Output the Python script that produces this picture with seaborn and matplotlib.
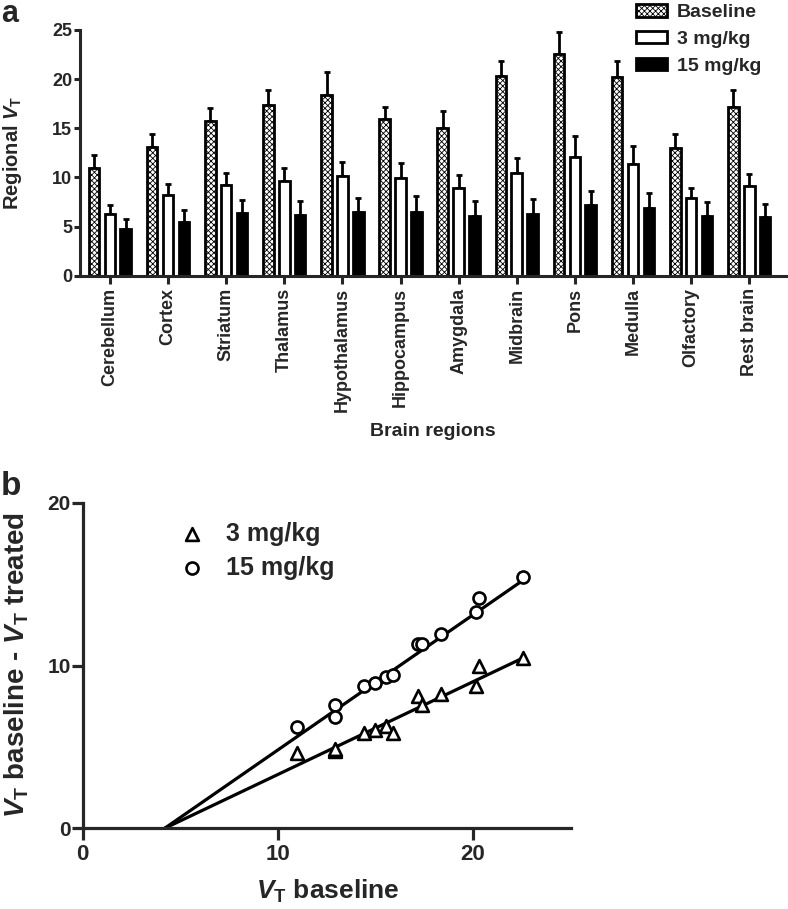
import numpy as np
import pandas as pd
import seaborn as sns
import matplotlib.pyplot as plt

# ---------------- data (panel a) ----------------
regions = ["Cerebellum", "Cortex", "Striatum", "Thalamus", "Hypothalamus",
           "Hippocampus", "Amygdala", "Midbrain", "Pons", "Medulla",
           "Olfactory", "Rest brain"]
conditions = ["Baseline", "3 mg/kg", "15 mg/kg"]
vt_baseline = [11.0, 13.05, 15.7, 17.4, 18.35, 15.95, 15.05, 20.3, 22.6, 20.2, 12.95, 17.2]
vt_3mg = [6.3, 8.2, 9.25, 9.6, 10.1, 9.95, 8.9, 10.4, 12.05, 11.35, 7.9, 9.1]
vt_15mg = [4.75, 5.5, 6.4, 6.2, 6.5, 6.5, 6.1, 6.3, 7.2, 6.9, 6.1, 5.95]
sd_baseline = [1.25, 1.4, 1.4, 1.45, 2.35, 1.2, 1.75, 1.5, 2.2, 1.6, 1.45, 1.65]
sd_3mg = [0.9, 1.15, 1.25, 1.35, 1.45, 1.55, 1.3, 1.55, 2.15, 1.8, 1.0, 1.25]
sd_15mg = [1.05, 1.2, 1.3, 1.45, 1.4, 1.6, 1.45, 1.5, 1.45, 1.5, 1.35, 1.35]
yticks_a = [0, 5, 10, 15, 20, 25]

# ---------------- data (panel b) ----------------
lassen_x = [11.0, 12.9, 12.95, 14.4, 14.95, 15.55, 15.9, 17.2, 17.4, 18.35, 20.15, 20.3, 22.55]
lassen_3mg = [4.6, 4.75, 4.9, 5.85, 6.05, 6.3, 5.85, 8.1, 7.6, 8.27, 8.75, 9.98, 10.45]
lassen_15mg = [6.25, 7.6, 6.83, 8.75, 8.95, 9.3, 9.4, 11.3, 11.3, 11.93, 13.3, 14.12, 15.43]
lassen_slopes = [0.57, 0.83]
lassen_vnd = 4.2
ticks_b = [0, 10, 20]

# ---------------- style ----------------
sns.set_theme(style="ticks")
plt.rcParams["font.family"] = ["Liberation Sans", "DejaVu Sans"]
plt.rcParams["font.weight"] = "bold"
plt.rcParams["axes.labelweight"] = "bold"
plt.rcParams["mathtext.fontset"] = "custom"
plt.rcParams["mathtext.it"] = "Liberation Sans:italic:bold"
plt.rcParams["mathtext.rm"] = "Liberation Sans:bold"
plt.rcParams["mathtext.bf"] = "Liberation Sans:bold"
plt.rcParams["hatch.linewidth"] = 0.6
plt.rcParams["hatch.color"] = "black"

W, H = 788, 909
fig = plt.figure(figsize=(W / 100, H / 100), dpi=100)

# ---------------- panel a ----------------
ax_a = fig.add_axes([80 / W, 1 - 275.7 / H, 707 / W, 245.7 / H])
df = pd.DataFrame({
    "region": regions * 3,
    "condition": np.repeat(conditions, len(regions)),
    "vt": vt_baseline + vt_3mg + vt_15mg,
})
sds = [sd_baseline, sd_3mg, sd_15mg]
sns.barplot(data=df, x="region", y="vt", hue="condition", order=regions,
            hue_order=conditions,
            palette={"Baseline": "white", "3 mg/kg": "white", "15 mg/kg": "black"},
            edgecolor="black", linewidth=2.0, width=0.82, gap=0.33,
            errorbar=None, legend=False, saturation=1, ax=ax_a)
bar_conts = list(ax_a.containers)
for cont, sd in zip(bar_conts, sds):
    xs = [p.get_x() + p.get_width() / 2 for p in cont.patches]
    hs = [p.get_height() for p in cont.patches]
    ax_a.errorbar(xs, hs, yerr=[np.zeros(len(sd)), sd], fmt="none",
                  ecolor="black", elinewidth=2.0, capsize=2.2, capthick=2.0,
                  zorder=1)
for p in bar_conts[0].patches:
    p.set_hatch("xxxxxx")
for cont in bar_conts:
    for p in cont.patches:
        p.set_zorder(2)

ax_a.set_xlim(-0.515, len(regions) - 0.35)
ax_a.set_ylim(0, 25)
ax_a.set_yticks(yticks_a)
sns.despine(ax=ax_a)
for s in ["left", "bottom"]:
    ax_a.spines[s].set_linewidth(2.2)
ax_a.tick_params(axis="y", length=4.5, width=2.2, labelsize=13, pad=1)
ax_a.tick_params(axis="x", length=5.5, width=2.2, labelsize=13, pad=3.5,
                 labelrotation=90)
for t in ax_a.get_xticklabels() + ax_a.get_yticklabels():
    t.set_fontweight("bold")
ax_a.set_xlabel("Brain regions", fontsize=14, fontweight="bold", va="top")
ax_a.xaxis.set_label_coords(0.4986, -0.60)
ax_a.set_ylabel(r"Regional $V_{\mathrm{T}}$", fontsize=14.5, fontweight="bold")
ax_a.yaxis.set_label_coords(-0.079, 0.5)

ax_a.legend(bar_conts, conditions, loc="upper left",
            bbox_to_anchor=(636 / W, 1 - 4 / H),
            bbox_transform=fig.transFigure, frameon=False,
            prop={"size": 14, "weight": "bold"},
            handlelength=1.6, handleheight=0.62, handletextpad=0.5,
            labelspacing=0.5, borderpad=0, borderaxespad=0)

# ---------------- panel b ----------------
ax_b = fig.add_axes([82.7 / W, 1 - 828.3 / H, 488 / W, 325.6 / H])
for slope in lassen_slopes:
    xl = np.array([lassen_vnd, max(lassen_x)])
    sns.lineplot(x=xl, y=slope * (xl - lassen_vnd), color="black",
                 linewidth=2.3, ax=ax_b, legend=False, zorder=2)
sns.scatterplot(x=lassen_x, y=lassen_3mg, marker="^", s=85, color="white",
                edgecolor="black", linewidth=1.9, label="3 mg/kg", ax=ax_b,
                zorder=3)
sns.scatterplot(x=lassen_x, y=lassen_15mg, marker="o", s=75, color="white",
                edgecolor="black", linewidth=1.9, label="15 mg/kg", ax=ax_b,
                zorder=3)
ax_b.set_xlim(0, 25)
ax_b.set_ylim(0, 20)
ax_b.set_xticks(ticks_b)
ax_b.set_yticks(ticks_b)
sns.despine(ax=ax_b)
for s in ["left", "bottom"]:
    ax_b.spines[s].set_linewidth(2.3)
ax_b.tick_params(axis="y", length=8, width=2.3, labelsize=15, pad=0.5)
ax_b.tick_params(axis="x", length=8.6, width=2.3, labelsize=16, pad=2.5)
for t in ax_b.get_xticklabels() + ax_b.get_yticklabels():
    t.set_fontweight("bold")
ax_b.set_xlabel(r"$V_{\mathrm{T}}$ baseline", fontsize=19, fontweight="bold",
                va="top")
ax_b.xaxis.set_label_coords(0.502, -0.152)
ax_b.set_ylabel(r"$V_{\mathrm{T}}$ baseline - $V_{\mathrm{T}}$ treated",
                fontsize=20, fontweight="bold")
ax_b.yaxis.set_label_coords(-0.106, 0.502)
ax_b.legend(loc="upper left", bbox_to_anchor=(179 / W, 1 - 522 / H),
            bbox_transform=fig.transFigure, frameon=False,
            prop={"size": 18, "weight": "bold"}, handlelength=1.0,
            handletextpad=0.9, labelspacing=0.4, borderpad=0, borderaxespad=0)

# ---------------- panel letters ----------------
fig.text(1 / W, 1 - 22 / H, "a", fontsize=22, fontweight="bold", va="baseline")
fig.text(1 / W, 1 - 495 / H, "b", fontsize=24, fontweight="bold", va="baseline")

fig.savefig("out.png", dpi=100)
